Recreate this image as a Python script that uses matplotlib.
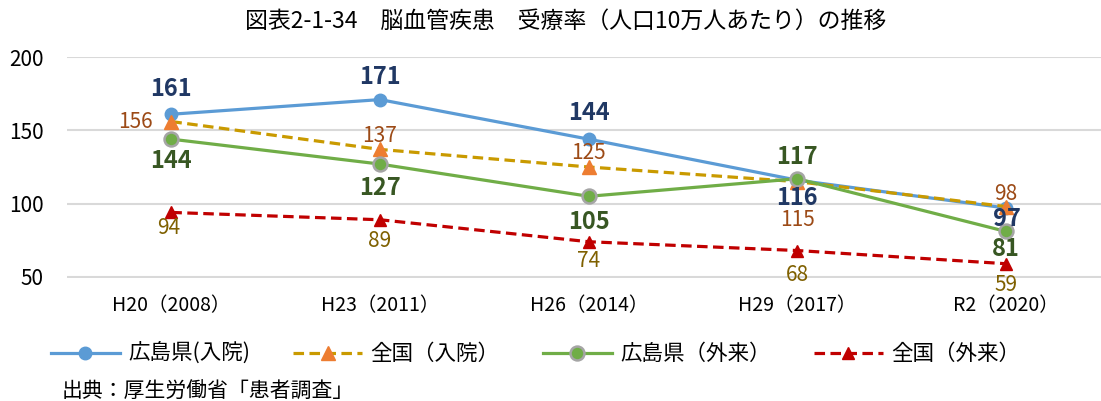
import matplotlib.pyplot as plt

plt.rcParams['font.family'] = ['Noto Sans CJK JP', 'DejaVu Sans']

# data
years = ['H20（2008）', 'H23（2011）', 'H26（2014）', 'H29（2017）', 'R2（2020）']
hiroshima_in = [161, 171, 144, 116, 97]
japan_in = [156, 137, 125, 115, 98]
hiroshima_out = [144, 127, 105, 117, 81]
japan_out = [94, 89, 74, 68, 59]
names = ['広島県(入院)', '全国（入院）', '広島県（外来）', '全国（外来）']
y_ticks = [50, 100, 150, 200]

# styles (line, marker)
styles = [
    dict(color='#5B9BD5', ls='-', marker='o', mfc='#5B9BD5', mec='#5B9BD5', ms=9, lw=2.3),
    dict(color='#C99A00', ls=(0, (3.3, 1.7)), marker='^', mfc='#ED7D31', mec='#ED7D31', ms=10, lw=2.3),
    dict(color='#70AD47', ls='-', marker='o', mfc='#70AD47', mec='#A5A5A5', mew=1.8, ms=10, lw=2.3),
    dict(color='#C00000', ls=(0, (3.3, 1.7)), marker='^', mfc='#C00000', mec='#C00000', ms=9, lw=2.3),
]
label_styles = [
    dict(color='#203864', fontweight='bold', fontsize=17),
    dict(color='#9C4A16', fontsize=15),
    dict(color='#385723', fontweight='bold', fontsize=17),
    dict(color='#7F6000', fontsize=15),
]
# label offsets in pixels (dx, dy), dy positive = down
offsets = [
    [(0, -25), (0, -23), (0, -26), (0, 18), (1, 11)],
    [(-36, 0), (0, -13), (0, -14), (0, 38), (0, -13)],
    [(0, 22), (0, 24), (0, 26), (0, -22), (0, 18)],
    [(-3, 16), (0, 21), (0, 19), (0, 24), (0, 21)],
]

fig = plt.figure(figsize=(11.01, 4.01), dpi=100)
ax = fig.add_axes([67 / 1101, 1 - 277.5 / 401, 1 - 67 / 1101, 221 / 401])

x = list(range(len(years)))
all_series = [hiroshima_in, japan_in, hiroshima_out, japan_out]
handles = []
for i, vals in enumerate(all_series):
    h, = ax.plot(x, vals, label=names[i], zorder=3 + i, **styles[i])
    handles.append(h)
    for j, v in enumerate(vals):
        dx, dy = offsets[i][j]
        ax.annotate(str(v), (x[j], v), xytext=(dx, -dy), textcoords='offset pixels',
                    ha='center', va='center', zorder=10, **label_styles[i])

ax.set_xlim(-0.5, 4.455)
ax.set_ylim(49.6, 200.4)
ax.set_yticks(y_ticks)
ax.set_xticks(x)
ax.set_xticklabels(years)
ax.tick_params(axis='y', length=0, pad=17, labelsize=15)
ax.tick_params(axis='x', length=0, pad=13, labelsize=14)
ax.yaxis.grid(True, color='#D9D9D9', lw=1.5)
ax.set_axisbelow(True)
for s in ax.spines.values():
    s.set_visible(False)

fig.text(566 / 1101, 1 - 21 / 401, '図表2-1-34\u3000脳血管疾患\u3000受療率（人口10万人あたり）の推移',
         ha='center', va='center', fontsize=16.5)

fig.legend(handles=handles, loc='center left', bbox_to_anchor=(42 / 1101, 1 - 354 / 401),
           ncol=4, frameon=False, fontsize=15.5, handlelength=3.2, handletextpad=0.4,
           columnspacing=2.0, borderaxespad=0)

fig.text(62 / 1101, 1 - 392 / 401, '出典：厚生労働省「患者調査」', ha='left', va='center', fontsize=15)

fig.savefig('out.png', dpi=100)
